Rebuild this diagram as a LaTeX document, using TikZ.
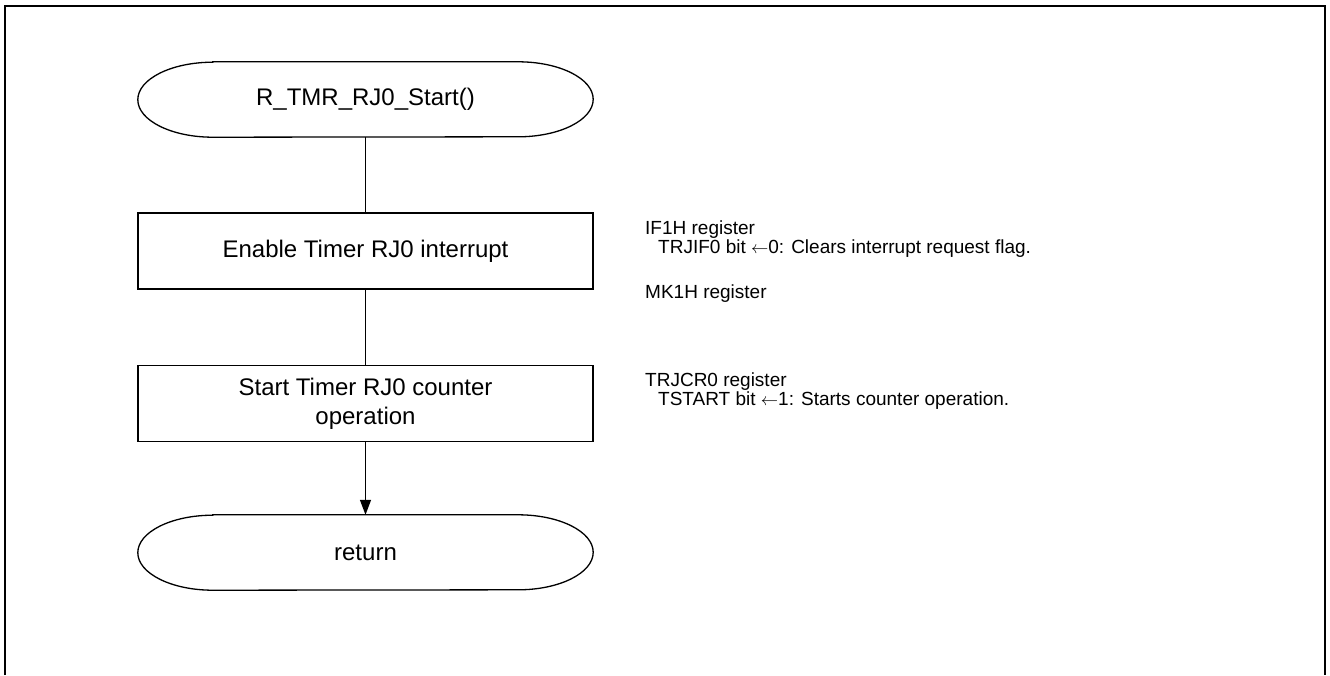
\documentclass[tikz,border=0pt]{standalone}
\usepackage{fontspec}
\setmainfont{Liberation Sans}
\usetikzlibrary{arrows.meta}
\begin{document}
\begin{tikzpicture}[x=1pt,y=-1pt,
  shapeline/.style={line width=1.3pt},
  procbox/.style={draw,shapeline,rectangle,minimum width=455pt,minimum height=76pt,inner sep=0pt,align=center,font=\fontsize{24}{29}\selectfont},
  termbox/.style={rectangle,minimum width=455pt,minimum height=75pt,inner sep=0pt,font=\fontsize{24}{29}\selectfont},
  note/.style={anchor=base west,inner sep=0pt,font=\fontsize{19}{21}\selectfont},
  flow/.style={line width=1.3pt},
  flowarrow/.style={flow,-{Triangle[length=15pt,width=11pt]}}]
\useasboundingbox (0,0) rectangle (1330,675);
\draw[line width=2pt] (5,675) -- (5,6) -- (1325,6) -- (1325,675);
% terminals
\node[termbox] (start) at (365.5,99.5) {R\_TMR\_RJ0\_Start()};
\draw[shapeline] ([xshift=75pt]start.north west) -- ([xshift=-75pt]start.north east)
  arc[start angle=90,end angle=-90,x radius=75pt,y radius=37.5pt]
  -- ([xshift=75pt]start.south west)
  arc[start angle=270,end angle=90,x radius=75pt,y radius=37.5pt] -- cycle;
\node[procbox] (b1) at (365.5,251) {Enable Timer RJ0 interrupt};
\node[procbox] (b2) at (365.5,403.5) {Start Timer RJ0 counter\\operation};
\node[termbox] (ret) at (365.5,552.5) {return};
\draw[shapeline] ([xshift=75pt]ret.north west) -- ([xshift=-75pt]ret.north east)
  arc[start angle=90,end angle=-90,x radius=75pt,y radius=37.5pt]
  -- ([xshift=75pt]ret.south west)
  arc[start angle=270,end angle=90,x radius=75pt,y radius=37.5pt] -- cycle;
% connectors
\draw[flow] (start) -- (b1);
\draw[flow] (b1) -- (b2);
\draw[flowarrow] (b2) -- (ret);
% notes
\node[note] (n1) at (645,234) {IF1H register};
\node[note] (n2) at (658,253) {TRJIF0 bit $\leftarrow$0: Clears interrupt request flag.};
\node[note] (n3) at (645,298) {MK1H register};
\node[note] (n4) at (645,386) {TRJCR0 register};
\node[note] (n5) at (658,405) {TSTART bit $\leftarrow$1: Starts counter operation.};
\end{tikzpicture}
\end{document}
